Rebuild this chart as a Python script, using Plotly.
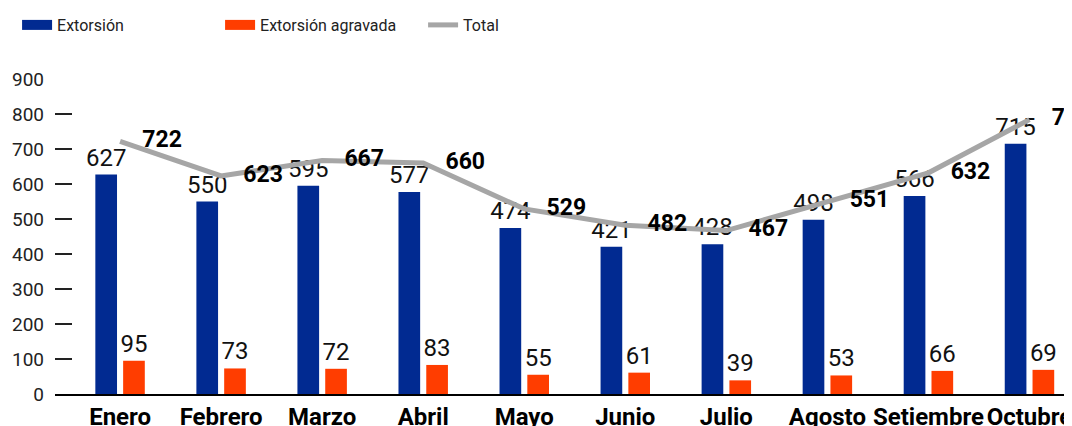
import plotly.graph_objects as go

# datos mensuales
meses = ['Enero', 'Febrero', 'Marzo', 'Abril', 'Mayo', 'Junio',
         'Julio', 'Agosto', 'Setiembre', 'Octubre']
extorsion = [627, 550, 595, 577, 474, 421, 428, 498, 566, 715]
extorsion_agravada = [95, 73, 72, 83, 55, 61, 39, 53, 66, 69]
total = [722, 623, 667, 660, 529, 482, 467, 551, 632, 784]
y_ticks = [0, 100, 200, 300, 400, 500, 600, 700, 800, 900]

FONT = 'Roboto, sans-serif'
AZUL = '#012A91'
NARANJA = '#FF3D00'
GRIS = '#A6A6A6'

fig = go.Figure()

fig.add_trace(go.Bar(
    x=meses, y=extorsion, name='Extorsión', showlegend=False,
    marker=dict(color=AZUL, line=dict(width=0)),
    text=extorsion, textposition='outside', constraintext='none',
    textfont=dict(family=FONT, size=24, color='#111'),
    cliponaxis=False,
))

fig.add_trace(go.Bar(
    x=meses, y=extorsion_agravada, name='Extorsión agravada', showlegend=False,
    marker=dict(color=NARANJA, line=dict(width=0)),
    text=extorsion_agravada, textposition='outside', constraintext='none',
    textfont=dict(family=FONT, size=24, color='#111'),
    cliponaxis=False,
))

# linea del total, etiqueta a la derecha del punto
fig.add_trace(go.Scatter(
    x=meses, y=total, name='Total', showlegend=False,
    mode='lines+markers+text',
    line=dict(color=GRIS, width=5),
    marker=dict(size=34, opacity=0),
    text=total, textposition='middle right',
    textfont=dict(family=FONT, size=23, color='#000', weight='bold'),
    cliponaxis=False,
))

# entradas de leyenda (rectangulos anchos como en el original)
for nombre, color, ancho in [('Extorsión', AZUL, 14),
                             ('Extorsión agravada', NARANJA, 14),
                             ('Total', GRIS, 5)]:
    fig.add_trace(go.Scatter(
        x=[None], y=[None], name=nombre, mode='lines',
        line=dict(color=color, width=ancho),
    ))

# la pagina tiene 8px de margen en el body: se compensa en los margenes
fig.update_layout(
    width=1072, height=426,
    margin=dict(l=47, r=0, t=70, b=40),
    paper_bgcolor='white', plot_bgcolor='white',
    barmode='group', bargap=0.45, bargroupgap=0.22,
    font=dict(family=FONT, color='#222'),
    showlegend=True,
    legend=dict(
        orientation='h', x=-0.037, xanchor='left', y=1.171, yanchor='middle',
        font=dict(family=FONT, size=16, color='#222'),
        entrywidth=158, entrywidthmode='pixels',
        traceorder='normal',
    ),
)

fig.update_xaxes(
    range=[-0.644, 9.50],
    showline=True, linecolor='#000', linewidth=2,
    showgrid=False, ticks='', tickangle=0,
    tickfont=dict(family=FONT, size=24, color='#000', weight='bold'),
)

fig.update_yaxes(
    range=[0, 900], tickvals=y_ticks,
    showgrid=False, zeroline=False, showline=False,
    ticks='inside', ticklen=17, tickwidth=1.5, tickcolor='#222',
    ticklabelstandoff=10,
    tickfont=dict(family=FONT, size=19, color='#222'),
)

fig.write_html('out.html')
